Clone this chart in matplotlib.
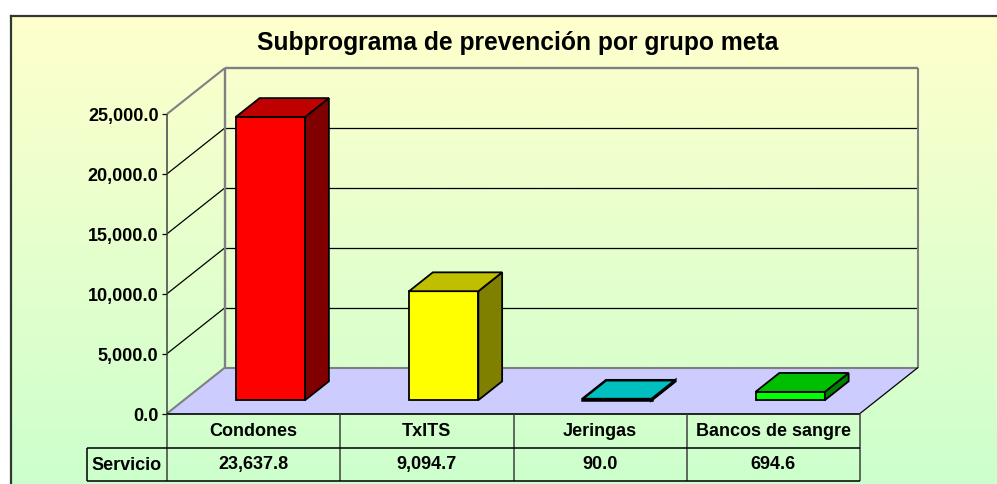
import numpy as np
import matplotlib
matplotlib.use("Agg")
import matplotlib.pyplot as plt
from matplotlib.patches import Polygon

plt.rcParams['font.family'] = ['Liberation Sans', 'DejaVu Sans']

categorias = ["Condones", "TxITS", "Jeringas", "Bancos de sangre"]
valores = [23637.8, 9094.7, 90.0, 694.6]
etiquetas = ["23,637.8", "9,094.7", "90.0", "694.6"]
fila = "Servicio"
titulo = "Subprograma de prevención por grupo meta"
ticks_y = [0, 5000, 10000, 15000, 20000, 25000]
colores = ["#FF0000", "#FFFF00", "#00FFFF", "#00FF00"]
colores_top = ["#BF0000", "#BFBF00", "#00BFBF", "#00BF00"]
colores_lado = ["#800000", "#808000", "#008080", "#008000"]

W, H = 997, 485
fig = plt.figure(figsize=(W / 100, H / 100), dpi=100, facecolor="white")

# fondo degradado dentro del marco
fondo = fig.add_axes([11 / W, 0, (W - 11) / W, (H - 16.5) / H], zorder=0)
grad = np.linspace(0, 1, 256)[:, None, None]
arriba = np.array([1.0, 1.0, 0.8])
abajo = np.array([0.8, 1.0, 0.8])
fondo.imshow(arriba + (abajo - arriba) * grad, aspect="auto", extent=[0, 1, 0, 1])
fondo.axis("off")

# ejes en el plano frontal: 4 categorias, 0 a 25000
x0, x1, y0, y1 = 167.0, 860.0, 414.5, 115.0
ax = fig.add_axes([x0 / W, (H - y0) / H, (x1 - x0) / W, (y0 - y1) / H], zorder=1)
ax.set_xlim(0, 4)
ax.set_ylim(0, 25000)
ax.patch.set_alpha(0)
for s in ax.spines.values():
    s.set_visible(False)

# profundidad en unidades de datos
px_x = 4 / (x1 - x0)
px_y = 25000 / (y0 - y1)
DX = 58 * px_x
DY = 46 * px_y


def p3(x, y, d):
    return (x + DX * d, y + DY * d)


def cara(puntos, color, lw=1.3, ec="black", z=3):
    ax.add_patch(Polygon(puntos, closed=True, fc=color, ec=ec, lw=lw, zorder=z,
                         clip_on=False, joinstyle="miter"))


def linea(a, b, color="black", lw=0.9, z=2):
    ax.plot([a[0], b[0]], [a[1], b[1]], color=color, lw=lw, zorder=z, clip_on=False,
            solid_capstyle="butt")


# piso
cara([p3(0, 0, 0), p3(4, 0, 0), p3(4, 0, 1), p3(0, 0, 1)], "#CCCCFF", lw=0, ec="none", z=1)

# rejilla
for t in ticks_y[1:-1]:
    linea(p3(0, t, 0), p3(0, t, 1))
    linea(p3(0, t, 1), p3(4, t, 1))

# paredes
gris = "#808080"
linea(p3(0, 25000, 0), p3(0, 25000, 1), gris, 1.5)
linea(p3(0, 25000, 1), p3(4, 25000, 1), gris, 1.7)
linea(p3(0, 0, 1), p3(0, 25000, 1), gris, 1.7)
linea(p3(4, 0, 1), p3(4, 25000, 1), gris, 1.5)
linea(p3(0, 0, 1), p3(4, 0, 1), gris, 1.5)
linea(p3(0, 0, 0), p3(0, 0, 1), gris, 1.5)
linea(p3(4, 0, 0), p3(4, 0, 1), "black", 0.9)

# barras
ancho = 0.4
d0, d1 = 0.29, 0.70
for i, v in enumerate(valores):
    a = i + 0.5 - ancho / 2
    b = i + 0.5 + ancho / 2
    lw = 1.3 if v > 100 else 1.8
    cara([p3(a, 0, d0), p3(b, 0, d0), p3(b, v, d0), p3(a, v, d0)], colores[i], lw)
    cara([p3(b, 0, d0), p3(b, 0, d1), p3(b, v, d1), p3(b, v, d0)], colores_lado[i], lw)
    cara([p3(a, v, d0), p3(b, v, d0), p3(b, v, d1), p3(a, v, d1)], colores_top[i], lw)

# eje y
ax.set_xticks([])
ax.set_yticks(ticks_y)
ax.set_yticklabels([f"{t:,.1f}" for t in ticks_y], fontsize=13, fontweight="bold")
ax.tick_params(axis="y", length=3.6, width=0.9, pad=2.5, color="black")
linea((0, 0), (0, 25000), "#404040", 1.1, 4)

# tabla de datos
fila1 = -34.5 * px_y
fila2 = -67.5 * px_y
izq = -80 * px_x
linea((0, 0), (4, 0), "black", 1.2, 4)
linea((0, 0), (0, fila2), "#404040", 1.1, 4)
for k in range(1, 5):
    linea((k, 0), (k, fila2), "#404040", 1.1, 4)
linea((izq, fila1), (4, fila1), "black", 1.1, 4)
linea((izq, fila2), (4, fila2), "black", 1.1, 4)
linea((izq, fila1), (izq, fila2), "black", 1.1, 4)
for i in range(4):
    ax.text(i + 0.5, fila1 / 2, categorias[i], ha="center", va="center", fontsize=13,
            fontweight="bold", clip_on=False)
    ax.text(i + 0.5, (fila1 + fila2) / 2 + 0.5 * px_y, etiquetas[i], ha="center", va="center",
            fontsize=13, fontweight="bold", clip_on=False)
ax.text(izq / 2, (fila1 + fila2) / 2, fila, ha="center", va="center", fontsize=13,
        fontweight="bold", clip_on=False)

fig.text(518 / W, 1 - 43 / H, titulo, ha="center", va="center", fontsize=17.7, fontweight="bold")

# marco
marco = "#2F3A2F"
fig.add_artist(plt.Line2D([11 / W, 11 / W], [0, 1 - 16.5 / H], color=marco, lw=1.6))
fig.add_artist(plt.Line2D([10.5 / W, 1], [1 - 16.5 / H, 1 - 16.5 / H], color=marco, lw=1.6))

fig.savefig("out.png", dpi=100)
